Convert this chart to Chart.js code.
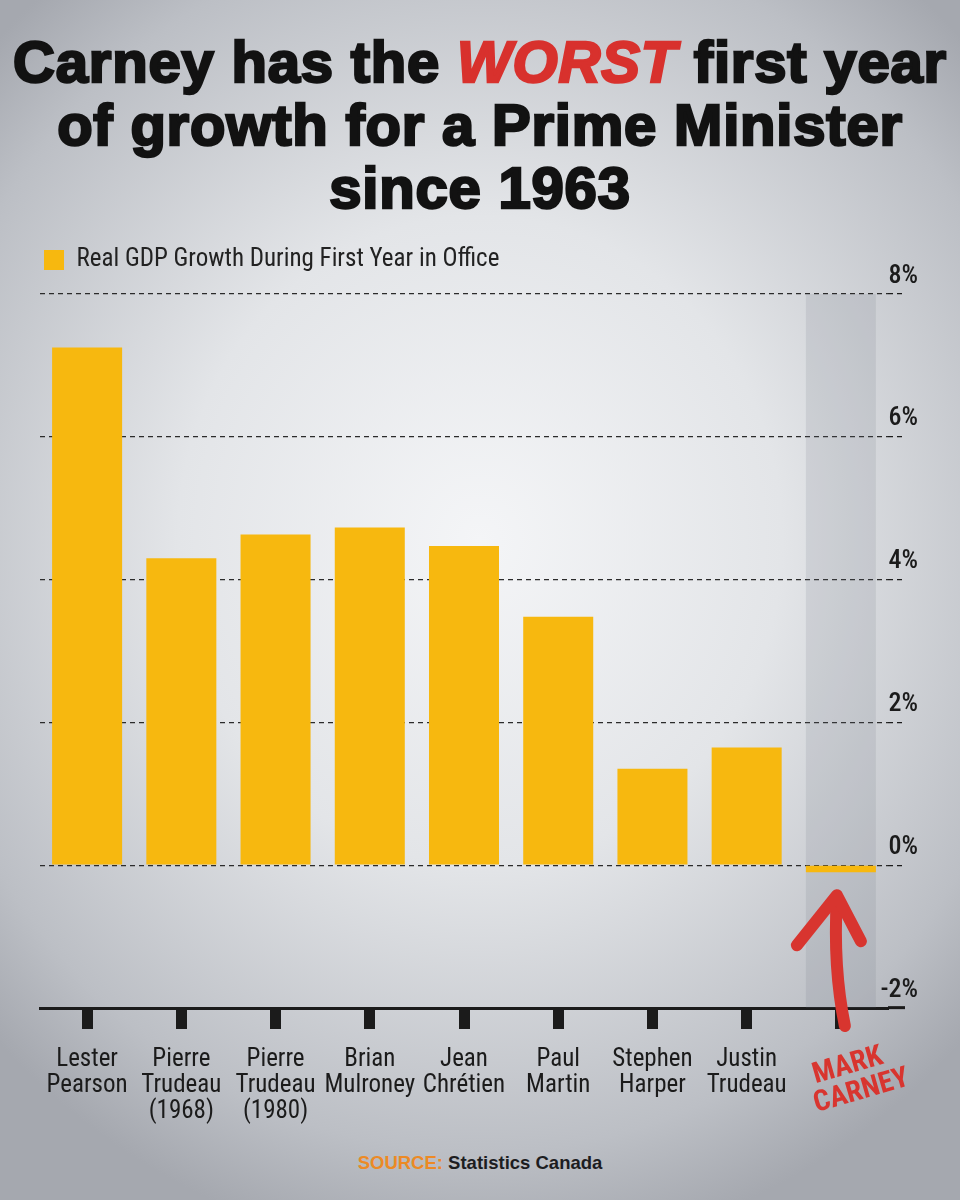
<!DOCTYPE html>
<html lang="en">
<head>
  <meta charset="UTF-8" />
  <title>Carney - First Year GDP Growth</title>
  <script src="https://cdn.jsdelivr.net/npm/chart.js@4.4.0/dist/chart.umd.min.js"></script>
  <style>
    body {
      margin: 0;
      width: 960px;
      height: 1200px;
      overflow: hidden;
      position: relative;
      font-family: 'Liberation Sans', Arial, sans-serif;
      background: radial-gradient(ellipse 70% 60% at 50% 45%, #f4f5f7 0%, #e3e5e8 45%, #bcbfc5 85%, #a5a8af 100%);
    }
    h1 {
      position: absolute;
      top: 30px;
      left: 0;
      width: 960px;
      margin: 0;
      text-align: center;
      font-size: 58px;
      line-height: 63px;
      font-weight: 700;
      color: #121212;
      -webkit-text-stroke: 2.5px #121212;
      letter-spacing: 0.8px;
    }
    h1 em {
      color: #d8312d;
      -webkit-text-stroke-color: #d8312d;
    }
    .chart-box {
      position: absolute;
      top: 236px;
      left: 0;
      width: 960px;
      height: 904px;
    }
    .source {
      position: absolute;
      top: 1152px;
      left: 0;
      width: 960px;
      text-align: center;
      font-size: 18.5px;
      font-weight: 700;
      color: #1d1d1f;
    }
    .source span { color: #ec8a25; }
  </style>
</head>
<body>

  <h1>Carney has the <em>WORST</em> first year<br>of growth for a Prime Minister<br>since 1963</h1>

  <div class="chart-box">
    <canvas id="gdpChart"></canvas>
  </div>

  <div class="source"><span>SOURCE:</span> Statistics Canada</div>

  <script>
    const leaders = [
      ['Lester', 'Pearson'],
      ['Pierre', 'Trudeau', '(1968)'],
      ['Pierre', 'Trudeau', '(1980)'],
      ['Brian', 'Mulroney'],
      ['Jean', 'Chrétien'],
      ['Paul', 'Martin'],
      ['Stephen', 'Harper'],
      ['Justin', 'Trudeau'],
      ['MARK', 'CARNEY']
    ];
    const growth = [7.25, 4.30, 4.63, 4.73, 4.47, 3.48, 1.35, 1.65, -0.1];
    const yTicks = [-2, 0, 2, 4, 6, 8];
    const highlightIndex = 8;
    const highlightRange = [-2, 8];

    const narrow = "'Roboto Condensed', Roboto, sans-serif";
    const ink = '#1b1b1b';
    const red = '#d8352f';

    // push the plot down a bit under the legend
    const legendGap = {
      id: 'legendGap',
      beforeInit(chart) {
        const originalFit = chart.legend.fit;
        chart.legend.fit = function fit() {
          originalFit.bind(chart.legend)();
          this.height += 11.5;
        };
      }
    };

    // hand drawn arrow + name under Carney's bar
    const carneyNote = {
      id: 'carneyNote',
      afterDraw(chart) {
        const { ctx, scales: { x, y } } = chart;
        const cx = x.getPixelForValue(highlightIndex);
        const y0 = y.getPixelForValue(0);
        const yb = y.getPixelForValue(yTicks[0]);

        ctx.save();
        ctx.strokeStyle = red;
        ctx.lineWidth = 12;
        ctx.lineCap = 'round';
        ctx.lineJoin = 'round';

        ctx.beginPath();
        ctx.moveTo(cx - 4, y0 + 32);
        ctx.quadraticCurveTo(cx - 8, yb - 40, cx + 4, yb + 18);
        ctx.stroke();

        ctx.beginPath();
        ctx.moveTo(cx - 44, y0 + 80);
        ctx.lineTo(cx - 4, y0 + 30);
        ctx.lineTo(cx + 20, y0 + 76);
        ctx.stroke();

        ctx.fillStyle = red;
        ctx.font = "bold 29px 'Roboto Condensed', 'DejaVu Sans Condensed', sans-serif";
        ctx.textAlign = 'center';
        ctx.textBaseline = 'alphabetic';
        ctx.translate(cx + 14, yb + 68);
        ctx.rotate(-0.28);
        ctx.fillText(leaders[highlightIndex][0], -4, -4);
        ctx.fillText(leaders[highlightIndex][1], 2, 24);
        ctx.restore();
      }
    };

    window.gdpChart = new Chart(document.getElementById('gdpChart'), {
      type: 'bar',
      data: {
        labels: leaders,
        datasets: [
          {
            label: 'Real GDP Growth During First Year in Office',
            data: growth,
            backgroundColor: '#f7b80f',
            order: 0,
            grouped: false,
            barPercentage: 0.743,
            categoryPercentage: 1
          },
          {
            label: 'highlight',
            data: leaders.map((_, i) => i === highlightIndex ? highlightRange : null),
            backgroundColor: 'rgba(105, 112, 128, 0.15)',
            order: 1,
            grouped: false,
            barPercentage: 0.743,
            categoryPercentage: 1
          }
        ]
      },
      options: {
        responsive: true,
        maintainAspectRatio: false,
        animation: false,
        layout: { padding: { left: 40, right: 43, top: 7.5, bottom: 0 } },
        plugins: {
          tooltip: { enabled: false },
          legend: {
            position: 'top',
            align: 'start',
            labels: {
              boxWidth: 20,
              boxHeight: 20,
              padding: 4,
              color: '#222',
              font: { family: narrow, size: 25 },
              filter: item => item.datasetIndex === 0
            }
          }
        },
        scales: {
          x: {
            grid: {
              display: true,
              offset: false,
              drawOnChartArea: false,
              drawTicks: true,
              tickLength: 21,
              tickWidth: 11,
              tickColor: ink
            },
            border: { display: true, color: ink, width: 3 },
            ticks: {
              color: ink,
              autoSkip: false,
              maxRotation: 0,
              padding: 18,
              font: { family: narrow, size: 25, lineHeight: 1.03 },
              callback: (v, i) => i === highlightIndex ? '' : leaders[i]
            },
            afterFit: s => { s.height = 132; }
          },
          y: {
            position: 'right',
            min: yTicks[0],
            max: yTicks[yTicks.length - 1],
            afterBuildTicks: s => { s.ticks = yTicks.map(v => ({ value: v })); },
            grid: {
              color: c => c.tick && c.tick.value === yTicks[0] ? 'rgba(0,0,0,0)' : '#2b2b2b',
              lineWidth: 1.3,
              drawTicks: true,
              tickLength: 17,
              tickColor: ink,
              tickWidth: c => c.tick && c.tick.value === yTicks[0] ? 3 : 1.3,
              tickBorderDash: c => c.tick && c.tick.value === yTicks[0] ? [] : [5, 4]
            },
            border: { display: false, dash: [5, 4] },
            ticks: {
              color: ink,
              mirror: true,          // mirrored labels are not clipped to the axis box
              crossAlign: 'near',
              padding: 30,
              labelOffset: -18,
              font: { family: narrow, size: 26, weight: '500' },
              callback: v => v + '%'
            },
            afterFit: s => { s.width = 29; }
          }
        }
      },
      plugins: [legendGap, carneyNote]
    });
  </script>
</body>
</html>
